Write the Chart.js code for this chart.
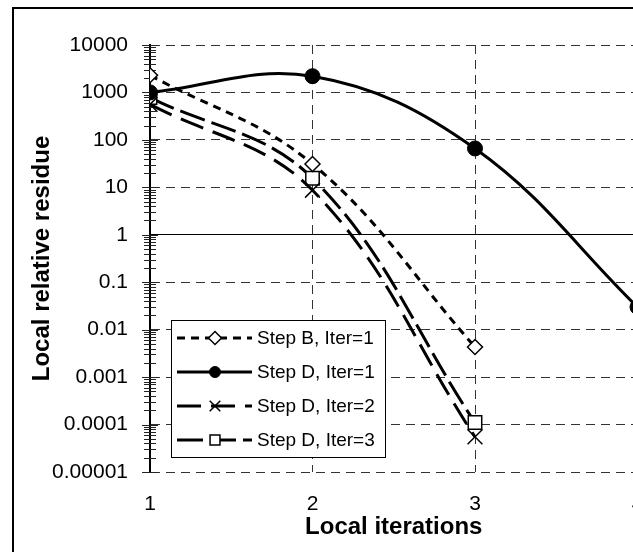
<!DOCTYPE html>
<html>
<head>
<meta charset="utf-8">
<script src="https://cdn.jsdelivr.net/npm/chart.js@4/dist/chart.umd.min.js"></script>
<style>
  html, body { margin: 0; padding: 0; background: #fff; overflow: hidden; }
  #wrap { position: relative; width: 633px; height: 552px; overflow: hidden; }
  #box { position: absolute; left: 0; top: 0; width: 680px; height: 552px; }
</style>
</head>
<body>
<div id="wrap"><div id="box"><canvas id="c"></canvas></div></div>
<script>
// Local iteration index on the x axis
const iterations = [1, 2, 3, 4];

// Local relative residue per series
const stepB_iter1 = [2300, 31, 0.0043];
const stepD_iter1 = [1000, 2200, 66, 0.03];
const stepD_iter2 = [560, 8.7, 0.000055];
const stepD_iter3 = [780, 15.5, 0.00011];

const seriesNames = ['Step B, Iter=1', 'Step D, Iter=1', 'Step D, Iter=2', 'Step D, Iter=3'];

const yTickValues = [0.00001, 0.0001, 0.001, 0.01, 0.1, 1, 10, 100, 1000, 10000];
const yTickLabels = ['0.00001', '0.0001', '0.001', '0.01', '0.1', '1', '10', '100', '1000', '10000'];
const xTickLabels = ['1', '2', '3', '4'];

const FONT = 'Liberation Sans, Arial, sans-serif';
Chart.defaults.font.family = FONT;
Chart.defaults.color = '#000';

function toPoints(values) {
  return values.map((v, i) => ({ x: iterations[i], y: v }));
}

const seriesValues = [stepB_iter1, stepD_iter1, stepD_iter2, stepD_iter3];
const seriesStyles = [
  { dash: [8, 6], pointStyle: 'rectRot', radius: 7.5, fill: '#fff', pw: 1.5, legendRadius: 6.5 },
  { dash: [], pointStyle: 'circle', radius: 7.5, fill: '#000', pw: 1, legendRadius: 5.5 },
  { dash: [24, 10], pointStyle: 'crossRot', radius: 10.5, fill: '#000', pw: 1.5, legendRadius: 7.5 },
  { dash: [26, 7], pointStyle: 'rect', radius: 9.5, fill: '#fff', pw: 1.5, legendRadius: 7 }
];

const datasets = seriesValues.map((vals, i) => {
  const s = seriesStyles[i];
  return {
    label: seriesNames[i],
    data: toPoints(vals),
    borderColor: '#000',
    borderWidth: 3,
    borderDash: s.dash,
    borderCapStyle: 'butt',
    tension: 0.38,
    pointStyle: s.pointStyle,
    pointRadius: s.radius,
    pointHoverRadius: s.radius,
    pointBackgroundColor: s.fill,
    pointBorderColor: '#000',
    pointBorderWidth: s.pw,
    fill: false
  };
});

// Outer chart frame
const framePlugin = {
  id: 'frame',
  beforeDraw(chart) {
    const ctx = chart.ctx;
    ctx.save();
    ctx.fillStyle = '#fff';
    ctx.fillRect(0, 0, chart.width, chart.height);
    ctx.strokeStyle = '#000';
    ctx.lineWidth = 2;
    ctx.beginPath();
    ctx.moveTo(13, chart.height + 10);
    ctx.lineTo(13, 8);
    ctx.lineTo(chart.width + 10, 8);
    ctx.stroke();
    ctx.restore();
  }
};

// Major and minor tick marks crossing the value axis
const logTicksPlugin = {
  id: 'logTicks',
  beforeDatasetsDraw(chart) {
    const ctx = chart.ctx;
    const y = chart.scales.y;
    const ax = chart.chartArea.left;
    ctx.save();
    ctx.strokeStyle = '#222';
    ctx.lineWidth = 1;
    for (let d = 0; d < yTickValues.length; d++) {
      const dec = yTickValues[d];
      const py = Math.round(y.getPixelForValue(dec)) + 0.5;
      ctx.beginPath();
      ctx.moveTo(ax - 8, py);
      ctx.lineTo(ax + 8, py);
      ctx.stroke();
      if (d === yTickValues.length - 1) break;
      for (let k = 2; k <= 9; k++) {
        const p = Math.round(y.getPixelForValue(k * dec)) + 0.5;
        ctx.beginPath();
        ctx.moveTo(ax - 6, p);
        ctx.lineTo(ax + 6, p);
        ctx.stroke();
      }
    }
    ctx.restore();
  }
};

// Boxed legend inside the plot area
const legendBoxPlugin = {
  id: 'legendBox',
  afterDraw(chart) {
    const ctx = chart.ctx;
    const bx = 171, by = 320, bw = 214, bh = 137;
    ctx.save();
    ctx.fillStyle = '#fff';
    ctx.fillRect(bx, by, bw, bh);
    ctx.strokeStyle = '#000';
    ctx.lineWidth = 1;
    ctx.strokeRect(bx + 0.5, by + 0.5, bw, bh);
    chart.data.datasets.forEach((ds, i) => {
      const s = seriesStyles[i];
      const ry = by + 18 + i * 34;
      ctx.save();
      ctx.strokeStyle = '#000';
      ctx.lineWidth = 3;
      ctx.lineCap = 'butt';
      ctx.setLineDash(s.dash);
      ctx.beginPath();
      ctx.moveTo(bx + 6, ry);
      ctx.lineTo(bx + 81, ry);
      ctx.stroke();
      ctx.restore();
      ctx.save();
      ctx.setLineDash([]);
      ctx.strokeStyle = '#000';
      ctx.fillStyle = s.fill;
      ctx.lineWidth = s.pw;
      Chart.helpers.drawPoint(ctx, {
        pointStyle: s.pointStyle, radius: s.legendRadius, rotation: 0, borderWidth: s.pw
      }, bx + 44, ry);
      ctx.restore();
      ctx.fillStyle = '#000';
      ctx.font = '19px ' + FONT;
      ctx.textBaseline = 'middle';
      ctx.textAlign = 'left';
      ctx.fillText(ds.label, bx + 86, ry + 1);
    });
    ctx.restore();
  }
};

new Chart(document.getElementById('c'), {
  type: 'line',
  data: { datasets },
  plugins: [framePlugin, logTicksPlugin, legendBoxPlugin],
  options: {
    responsive: true,
    maintainAspectRatio: false,
    devicePixelRatio: 1,
    animation: false,
    events: [],
    layout: { padding: { left: 0, top: 45, right: 42.5, bottom: 0 } },
    plugins: { legend: { display: false }, tooltip: { enabled: false } },
    scales: {
      x: {
        type: 'linear',
        min: 1,
        max: 4,
        afterBuildTicks: (s) => { s.ticks = iterations.map(v => ({ value: v })); },
        afterFit: (s) => { s.height = 80; },
        ticks: {
          autoSkip: false,
          maxRotation: 0,
          padding: 20,
          color: '#000',
          font: { size: 21 },
          callback: (v, i) => xTickLabels[i]
        },
        grid: { drawTicks: false, color: '#333', lineWidth: 1 },
        border: { display: false, dash: [9, 6] },
        title: {
          display: true,
          text: 'Local iterations',
          color: '#000',
          font: { size: 24, weight: 'bold' },
          padding: { top: 0, bottom: 10 }
        }
      },
      y: {
        type: 'logarithmic',
        min: 0.00001,
        max: 10000,
        afterBuildTicks: (s) => { s.ticks = yTickValues.map(v => ({ value: v, major: true })); },
        afterFit: (s) => { s.width = 150; },
        ticks: {
          autoSkip: false,
          padding: 22,
          color: '#000',
          font: { size: 21 },
          callback: (v, i) => yTickLabels[i]
        },
        grid: {
          drawTicks: false,
          color: (c) => (c.tick && c.tick.value === 1) ? '#000' : '#333',
          lineWidth: 1
        },
        border: {
          display: true,
          color: '#000',
          width: 2,
          dash: (c) => (c.tick && c.tick.value === 1) ? [] : [9, 6]
        },
        title: {
          display: true,
          text: 'Local relative residue',
          color: '#000',
          font: { size: 24, weight: 'bold' },
          padding: { top: 28, bottom: 0 }
        }
      }
    }
  }
});
</script>
</body>
</html>
